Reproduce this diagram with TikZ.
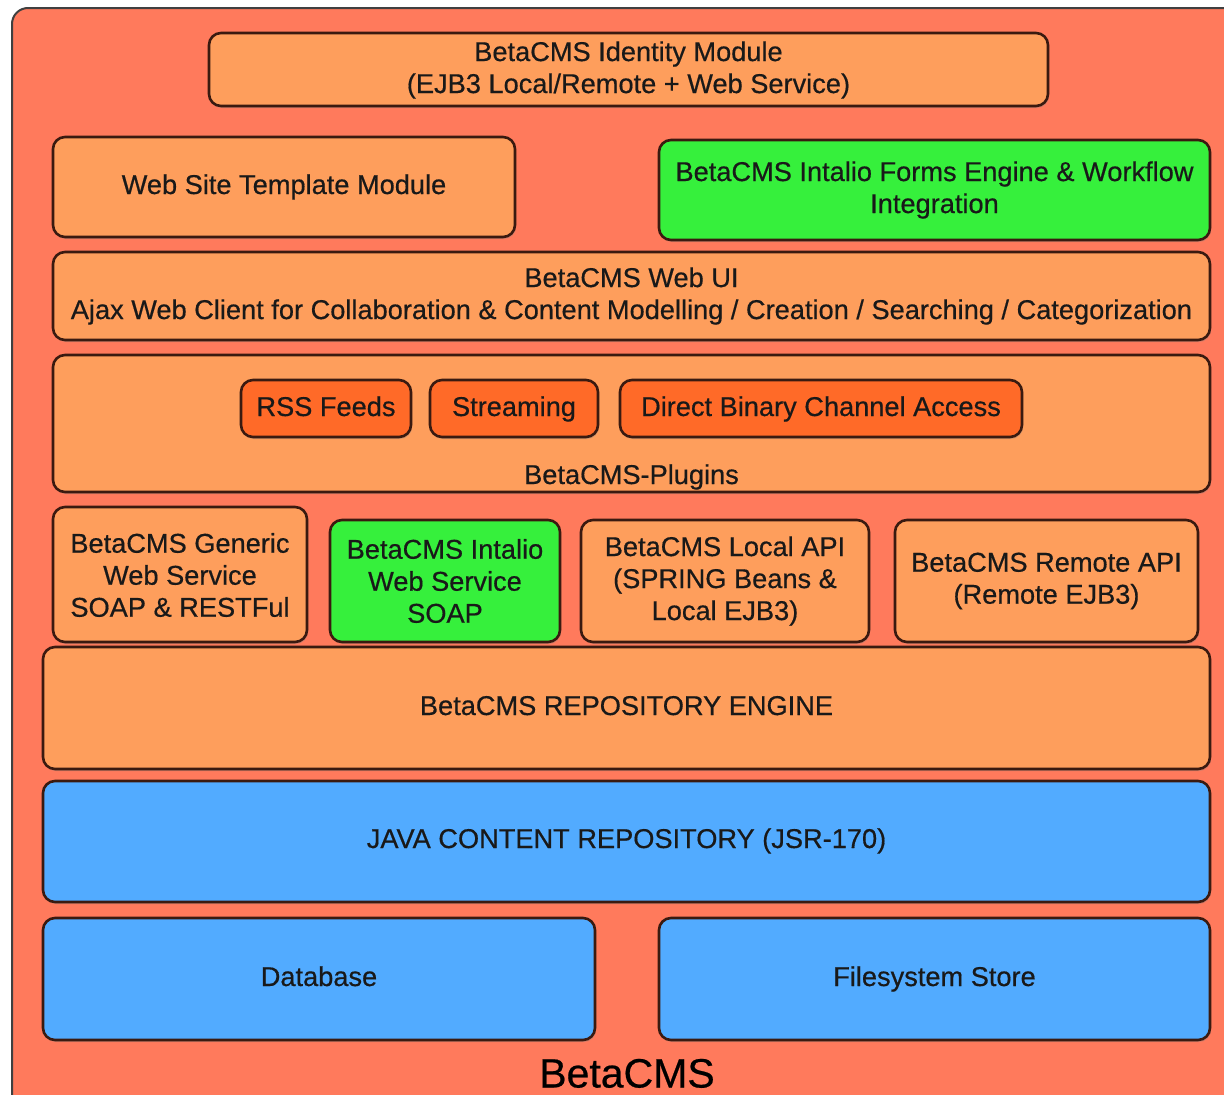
\documentclass[tikz,border=0pt]{standalone}
\usepackage{fontspec}
\setmainfont{Liberation Sans}
\newfontfamily\lblfont{Liberation Sans}[FakeBold=0.5]
\usetikzlibrary{shadows}
\definecolor{bgsalmon}{HTML}{FF7A5C}
\definecolor{boxorange}{HTML}{FE9E5C}
\definecolor{plugorange}{HTML}{FF6A28}
\definecolor{boxgreen}{HTML}{36F03C}
\definecolor{boxblue}{HTML}{52ABFF}
\definecolor{edge}{HTML}{3A1A10}
\tikzset{
  blk/.style={draw=edge, line width=2.6pt, rounded corners=12pt,
    drop shadow={shadow xshift=1pt, shadow yshift=-2pt, opacity=0.35}},
  lbl/.style={font=\lblfont\fontsize{27.2}{32}\selectfont, align=center, text=black!90},
  one/.style={lbl, text height=20pt, text depth=6pt},
}
\begin{document}
\begin{tikzpicture}[x=1pt,y=-1pt]
\useasboundingbox (0,0) rectangle (1224,1095);
\fill[white] (0,0) rectangle (1224,1095);
% outer frame
\draw[fill=bgsalmon, draw=black!75, line width=2pt, rounded corners=16pt] (12,8) rectangle (1240,1110);
\node[font=\lblfont\fontsize{41}{44}\selectfont, text height=29pt, text depth=2pt] (betacms) at (627,1074) {BetaCMS};

% identity
\draw[blk, fill=boxorange] (209,33) rectangle (1048,106);
\node[lbl] (ident) at (628.5,70) {BetaCMS Identity Module\\(EJB3 Local/Remote + Web Service)};

% template and forms
\draw[blk, fill=boxorange] (53,137) rectangle (515,237);
\node[one] (tmpl) at (284,187) {Web Site Template Module};
\draw[blk, fill=boxgreen] (659,140) rectangle (1210,240);
\node[lbl] (forms) at (934.5,190) {BetaCMS Intalio Forms Engine \& Workflow\\Integration};

% web UI
\draw[blk, fill=boxorange] (53,252) rectangle (1210,340);
\node[lbl] (webui) at (631.5,296) {BetaCMS Web UI\\Ajax Web Client for Collaboration \& Content Modelling / Creation / Searching / Categorization};

% plugins
\draw[blk, fill=boxorange] (53,355) rectangle (1210,492);
\node[one] (plugins) at (631.5,477) {BetaCMS-Plugins};
\draw[blk, fill=plugorange] (241,380) rectangle (411,437);
\node[one] (rss) at (326,409) {RSS Feeds};
\draw[blk, fill=plugorange] (430,380) rectangle (598,437);
\node[one] (stream) at (514,409) {Streaming};
\draw[blk, fill=plugorange] (620,380) rectangle (1022,437);
\node[one] (binary) at (821,409) {Direct Binary Channel Access};

% API row
\draw[blk, fill=boxorange] (53,507) rectangle (307,642);
\node[lbl] (generic) at (180,575) {BetaCMS Generic\\Web Service\\SOAP \& RESTFul};
\draw[blk, fill=boxgreen] (330,520) rectangle (560,642);
\node[lbl] (intws) at (445,581) {BetaCMS Intalio\\Web Service\\SOAP};
\draw[blk, fill=boxorange] (581,520) rectangle (869,642);
\node[lbl] (local) at (725,581) {BetaCMS Local API\\(SPRING Beans \&\\Local EJB3)};
\draw[blk, fill=boxorange] (895,520) rectangle (1198,642);
\node[lbl] (remote) at (1046.5,581) {BetaCMS Remote API\\(Remote EJB3)};

% engine
\draw[blk, fill=boxorange] (43,647) rectangle (1210,769);
\node[one] (engine) at (626.5,708) {BetaCMS REPOSITORY ENGINE};

% JCR
\draw[blk, fill=boxblue] (43,781) rectangle (1210,902);
\node[one] (jcr) at (626.5,841) {JAVA CONTENT REPOSITORY (JSR-170)};

% storage
\draw[blk, fill=boxblue] (43,918) rectangle (595,1040);
\node[one] (db) at (319,979) {Database};
\draw[blk, fill=boxblue] (659,918) rectangle (1210,1040);
\node[one] (fs) at (934.5,979) {Filesystem Store};
\end{tikzpicture}
\end{document}
